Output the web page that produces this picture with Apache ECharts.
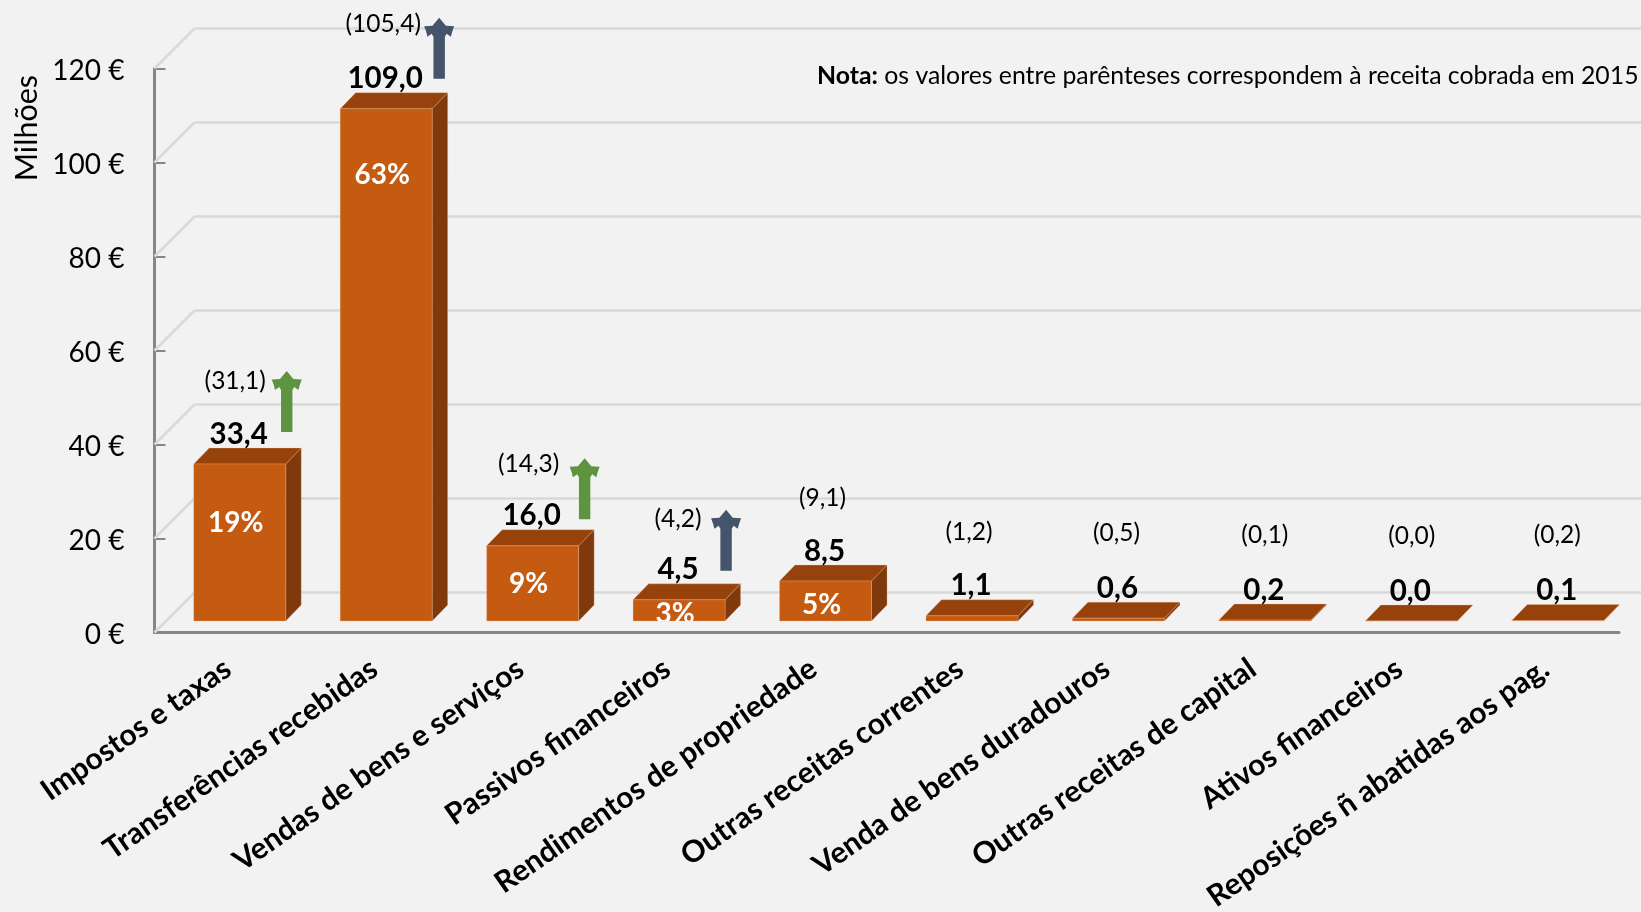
<!DOCTYPE html>
<html>
<head>
<meta charset="utf-8">
<script src="https://cdn.jsdelivr.net/npm/echarts@6/dist/echarts.min.js"></script>
<style>html,body{margin:0;padding:0;background:#f2f2f2}#c{width:1641px;height:912px}</style>
</head>
<body>
<div id="c"></div>
<script>
const categories = ['Impostos e taxas','Transferências recebidas','Vendas de bens e serviços','Passivos financeiros','Rendimentos de propriedade','Outras receitas correntes','Venda de bens duradouros','Outras receitas de capital','Ativos financeiros','Reposições ñ abatidas aos pag.'];
const receita2016 = [33.4,109.0,16.0,4.5,8.5,1.1,0.6,0.2,0.0,0.1];
const receita2015 = [31.1,105.4,14.3,4.2,9.1,1.2,0.5,0.1,0.0,0.2];
const percentLabels = ['19%','63%','9%','3%','5%','','','','',''];
const percentLabelAt = [21,95,8,1.7,3.6,null,null,null,null,null];
const trend = ['green','slate','green','slate',null,null,null,null,null,null];
const yTicks = [0,20,40,60,80,100,120];

const FONT = 'Lato';
const C = {bg:'#f2f2f2',front:'#c55a11',top:'#96420a',side:'#80390a',edge:'rgba(235,190,160,0.3)',axis:'#868686',grid:'#d9d9d9',green:'#5e9440',slate:'#44546a',text:'#000'};
const arrowNudge = [[47,-2],[53,0],[52,3.5],[47,1]];
const prevNudge = [[-4.5,2],[-3,0],[-4,3],[-1,4],[-3,2],[-3,1],[-2,0],[0,0],[0.5,0],[-0.5,0]];
const SHIFT = 12, BAR_W = 92, DX = 15.5, DY = 16, WALL = 40;
const fmt = v => v.toFixed(1).replace('.',',');

const chart = echarts.init(document.getElementById('c'));
const GRID = {left:154.5, top:68.5, width:1464.5, height:564, outerBoundsMode:'none'};

function barItem(params, api){
  const i = api.value(0), v = api.value(1);
  const t = api.coord([i,v]), b = api.coord([i,0]);
  const xc = t[0]+SHIFT, x0 = xc-BAR_W/2, x1 = xc+BAR_W/2, yt = t[1]-SHIFT+0.5, yb = b[1]-SHIFT+0.5;
  const edge = {stroke:C.edge,lineWidth:1};
  const pn = prevNudge[i];
  const children = [
    {type:'polygon',shape:{points:[[x1,yt],[x1+DX,yt-DY],[x1+DX,yb-DY],[x1,yb]]},style:{fill:C.side,...edge}},
    {type:'polygon',shape:{points:[[x0,yt],[x0+DX,yt-DY],[x1+DX,yt-DY],[x1,yt]]},style:{fill:C.top,...edge}},
    {type:'rect',shape:{x:x0,y:yt,width:BAR_W,height:yb-yt},style:{fill:C.front,...edge}},
    {type:'text',style:{x:xc-1,y:yt-DY-14,text:fmt(v),fill:C.text,font:'bold 29.5px '+FONT,align:'center',verticalAlign:'middle'}},
    {type:'text',style:{x:xc+pn[0],y:yt-85+pn[1],text:'('+fmt(receita2015[i])+')',fill:C.text,font:'24.5px '+FONT,align:'center',verticalAlign:'middle'}}
  ];
  if(percentLabels[i]){
    const py = api.coord([i,percentLabelAt[i]])[1]-SHIFT+1;
    children.push({type:'text',
      clipPath:{type:'rect',shape:{x:x0,y:yt-40,width:BAR_W,height:yb-yt+40}},
      style:{x:xc-4,y:py,text:percentLabels[i],fill:'#fff',font:'bold 28px '+FONT,align:'center',verticalAlign:'middle'}});
  }
  if(trend[i]){
    const n = arrowNudge[i], ax = xc+n[0], by = yt-30+n[1], ty = by-61;
    children.push({type:'polygon',shape:{points:[
      [ax,ty],[ax+6.7,ty+8],[ax+15,ty+8.5],[ax+13,ty+14],[ax+11.7,ty+19],[ax+7.5,ty+16],[ax+5.7,ty+19],
      [ax+5.7,by],[ax-5.7,by],[ax-5.7,ty+19],[ax-7.5,ty+16],[ax-11.7,ty+19],[ax-13,ty+14],[ax-15,ty+8.5],[ax-6.7,ty+8]
    ]},style:{fill:C[trend[i]]}});
  }
  return {type:'group',children};
}

chart.setOption({
  animation:false,
  backgroundColor:C.bg,
  textStyle:{fontFamily:FONT},
  grid:[
    GRID,
    {left:GRID.left+WALL, top:GRID.top-WALL, width:GRID.width, height:GRID.height, outerBoundsMode:'none'}
  ],
  xAxis:[
    {type:'category',gridIndex:0,data:categories,
      axisLine:{lineStyle:{color:C.axis,width:3}},axisTick:{show:false},
      axisLabel:{interval:0,rotate:35,fontSize:30,fontWeight:'bold',color:C.text,fontFamily:FONT,margin:33}},
    {type:'category',gridIndex:1,data:categories,show:false}
  ],
  yAxis:[
    {type:'value',gridIndex:0,min:0,max:120,interval:20,
      axisLine:{show:true,lineStyle:{color:C.axis,width:3}},
      axisTick:{show:true,inside:true,length:11,lineStyle:{color:C.axis,width:2}},
      splitLine:{show:false},
      axisLabel:{formatter:v=>'{v|'+v+' €}',margin:30,
        rich:{v:{fontSize:28,fontFamily:FONT,color:C.text,lineHeight:32,height:28,verticalAlign:'bottom',padding:[4,0,0,0]}}}},
    {type:'value',gridIndex:1,min:0,max:120,interval:20,
      axisLine:{show:false},axisTick:{show:false},axisLabel:{show:false},
      splitLine:{show:true,lineStyle:{color:C.grid,width:2.5}}}
  ],
  series:[
    {type:'custom',xAxisIndex:0,yAxisIndex:0,z:1,silent:true,clip:false,
      data:yTicks.map(v=>[0,v]),
      renderItem(params,api){
        const y = api.coord([0,api.value(1)])[1], x = params.coordSys.x;
        return {type:'line',shape:{x1:x,y1:y,x2:x+WALL,y2:y-WALL},style:{stroke:C.grid,lineWidth:2.5}};
      }},
    {type:'custom',xAxisIndex:0,yAxisIndex:0,z:5,silent:true,clip:false,
      data:receita2016.map((v,i)=>[i,v]),
      renderItem:barItem}
  ],
  graphic:[
    {type:'text',left:12,top:75,rotation:Math.PI/2,silent:true,
     style:{text:'Milhões',font:'30.5px '+FONT,fill:C.text}},
    {type:'text',left:817,top:64,silent:true,
     style:{text:'{b|Nota:} os valores entre parênteses correspondem à receita cobrada em 2015',
       font:'24.8px '+FONT,fill:C.text,rich:{b:{font:'bold 24.8px '+FONT,fill:C.text}}}}
  ]
});
</script>
</body>
</html>
